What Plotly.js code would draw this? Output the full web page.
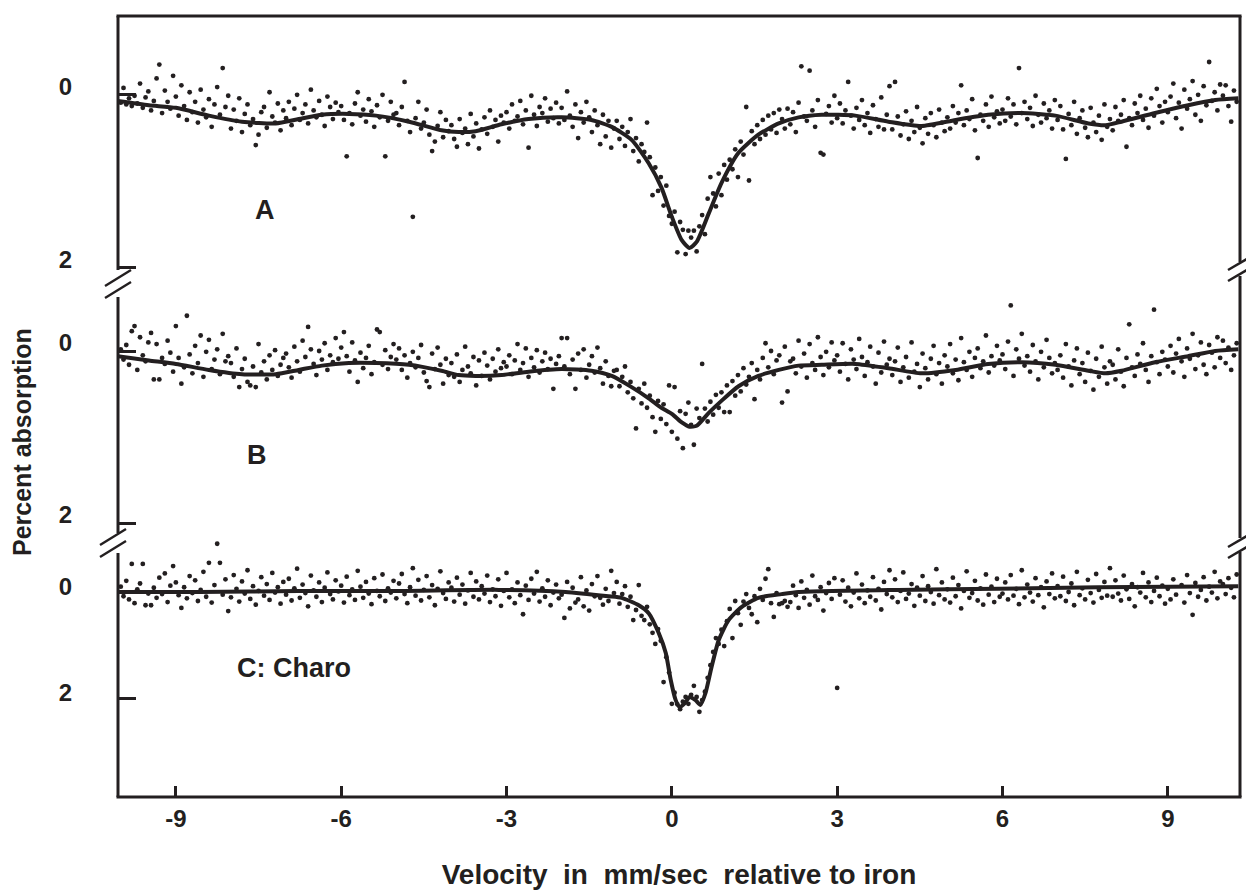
<!DOCTYPE html>
<html><head><meta charset="utf-8">
<script src="https://cdn.plot.ly/plotly-3.0.1.min.js"></script>
<style>html,body{margin:0;padding:0;background:#fff}</style>
</head><body>
<div id="chart" style="width:1246px;height:892px"></div>
<script>
// Channel velocities (mm/s)
const velocity = [
-10.00,-9.95,-9.90,-9.85,-9.80,-9.75,-9.70,-9.65,-9.60,-9.55,-9.50,-9.45,-9.40,-9.35,-9.30,-9.25,-9.20,-9.15,-9.10,-9.05,
-9.00,-8.95,-8.90,-8.85,-8.80,-8.75,-8.70,-8.65,-8.60,-8.55,-8.50,-8.45,-8.40,-8.35,-8.30,-8.25,-8.20,-8.15,-8.10,-8.05,
-8.00,-7.95,-7.90,-7.85,-7.80,-7.75,-7.70,-7.65,-7.60,-7.55,-7.50,-7.45,-7.40,-7.35,-7.30,-7.25,-7.20,-7.15,-7.10,-7.05,
-7.00,-6.95,-6.90,-6.85,-6.80,-6.75,-6.70,-6.65,-6.60,-6.55,-6.50,-6.45,-6.40,-6.35,-6.30,-6.25,-6.20,-6.15,-6.10,-6.05,
-6.00,-5.95,-5.90,-5.85,-5.80,-5.75,-5.70,-5.65,-5.60,-5.55,-5.50,-5.45,-5.40,-5.35,-5.30,-5.25,-5.20,-5.15,-5.10,-5.05,
-5.00,-4.95,-4.90,-4.85,-4.80,-4.75,-4.70,-4.65,-4.60,-4.55,-4.50,-4.45,-4.40,-4.35,-4.30,-4.25,-4.20,-4.15,-4.10,-4.05,
-4.00,-3.95,-3.90,-3.85,-3.80,-3.75,-3.70,-3.65,-3.60,-3.55,-3.50,-3.45,-3.40,-3.35,-3.30,-3.25,-3.20,-3.15,-3.10,-3.05,
-3.00,-2.95,-2.90,-2.85,-2.80,-2.75,-2.70,-2.65,-2.60,-2.55,-2.50,-2.45,-2.40,-2.35,-2.30,-2.25,-2.20,-2.15,-2.10,-2.05,
-2.00,-1.95,-1.90,-1.85,-1.80,-1.75,-1.70,-1.65,-1.60,-1.55,-1.50,-1.45,-1.40,-1.35,-1.30,-1.25,-1.20,-1.15,-1.10,-1.05,
-1.00,-0.95,-0.90,-0.85,-0.80,-0.75,-0.70,-0.65,-0.60,-0.55,-0.50,-0.45,-0.40,-0.35,-0.30,-0.25,-0.20,-0.15,-0.10,-0.05,
0.00,0.05,0.10,0.15,0.20,0.25,0.30,0.35,0.40,0.45,0.50,0.55,0.60,0.65,0.70,0.75,0.80,0.85,0.90,0.95,
1.00,1.05,1.10,1.15,1.20,1.25,1.30,1.35,1.40,1.45,1.50,1.55,1.60,1.65,1.70,1.75,1.80,1.85,1.90,1.95,
2.00,2.05,2.10,2.15,2.20,2.25,2.30,2.35,2.40,2.45,2.50,2.55,2.60,2.65,2.70,2.75,2.80,2.85,2.90,2.95,
3.00,3.05,3.10,3.15,3.20,3.25,3.30,3.35,3.40,3.45,3.50,3.55,3.60,3.65,3.70,3.75,3.80,3.85,3.90,3.95,
4.00,4.05,4.10,4.15,4.20,4.25,4.30,4.35,4.40,4.45,4.50,4.55,4.60,4.65,4.70,4.75,4.80,4.85,4.90,4.95,
5.00,5.05,5.10,5.15,5.20,5.25,5.30,5.35,5.40,5.45,5.50,5.55,5.60,5.65,5.70,5.75,5.80,5.85,5.90,5.95,
6.00,6.05,6.10,6.15,6.20,6.25,6.30,6.35,6.40,6.45,6.50,6.55,6.60,6.65,6.70,6.75,6.80,6.85,6.90,6.95,
7.00,7.05,7.10,7.15,7.20,7.25,7.30,7.35,7.40,7.45,7.50,7.55,7.60,7.65,7.70,7.75,7.80,7.85,7.90,7.95,
8.00,8.05,8.10,8.15,8.20,8.25,8.30,8.35,8.40,8.45,8.50,8.55,8.60,8.65,8.70,8.75,8.80,8.85,8.90,8.95,
9.00,9.05,9.10,9.15,9.20,9.25,9.30,9.35,9.40,9.45,9.50,9.55,9.60,9.65,9.70,9.75,9.80,9.85,9.90,9.95,
10.00,10.05,10.10,10.15,10.20,10.25];

// Spectrum A: percent absorption per channel
const absorptionA = [
0.10,-0.07,0.12,0.05,0.14,0.02,0.11,-0.12,0.16,0.04,-0.03,0.19,0.08,-0.18,-0.34,0.22,-0.04,0.09,0.17,-0.21,
0.03,0.25,-0.10,0.14,0.30,-0.02,0.21,0.09,0.33,-0.05,0.18,0.27,0.06,0.38,0.12,-0.08,0.24,-0.30,0.15,0.02,
0.40,0.18,0.31,0.05,0.44,0.23,0.12,0.36,0.29,0.59,0.47,0.21,0.15,0.39,-0.02,0.26,0.33,0.11,0.42,0.19,
0.28,0.09,0.36,0.17,0.01,0.30,0.22,0.12,0.34,-0.05,0.19,0.27,0.08,0.24,0.37,0.03,0.15,0.29,0.10,0.21,
0.14,0.30,0.72,0.22,0.35,0.11,-0.02,0.25,0.18,0.32,0.06,0.20,0.38,0.13,0.27,0.01,0.72,0.31,0.09,0.24,
0.22,0.36,0.15,-0.14,0.31,0.44,1.42,0.28,0.09,0.40,0.33,0.18,0.47,0.66,0.55,0.37,0.21,0.50,0.30,0.43,
0.36,0.52,0.61,0.29,0.45,0.40,0.58,0.23,0.49,0.34,0.63,0.41,0.27,0.46,0.19,0.38,0.30,0.55,0.25,0.33,
0.21,0.40,0.12,0.31,0.26,0.08,0.35,0.19,0.62,0.02,0.24,0.37,0.15,0.22,0.05,0.32,0.17,0.28,0.10,0.34,
0.16,0.30,-0.03,0.25,0.38,0.12,0.51,0.21,0.33,0.09,0.27,0.44,0.19,0.36,0.58,0.24,0.49,0.31,0.62,0.40,
0.31,0.52,0.38,0.60,0.44,0.29,0.66,0.51,0.78,0.58,0.67,0.33,0.73,1.17,0.85,1.12,0.96,1.29,1.06,1.41,
1.50,1.36,1.83,1.48,1.57,1.85,1.58,1.66,1.58,1.82,1.53,1.40,1.62,1.21,0.96,1.15,1.30,0.92,1.17,0.82,
0.99,0.76,0.87,0.64,0.96,0.55,0.70,0.15,1.00,0.43,0.58,0.36,0.52,0.30,0.47,0.25,0.41,0.22,0.45,0.18,
0.29,0.40,0.17,0.35,0.21,0.44,0.10,-0.32,0.26,0.31,-0.27,0.19,0.38,0.07,0.68,0.70,0.23,0.14,0.33,0.02,
0.28,0.11,0.34,0.19,-0.14,0.25,0.40,0.16,0.30,0.07,0.36,0.22,0.45,0.13,0.29,0.38,0.04,0.41,0.24,-0.09,
0.41,-0.14,0.26,0.48,0.35,0.20,0.52,0.31,0.44,0.15,0.39,0.57,0.28,0.46,0.22,0.36,0.50,0.18,0.33,0.43,
0.27,0.40,0.14,0.33,0.22,-0.10,0.36,0.19,0.29,0.06,0.42,0.74,0.24,0.31,0.12,0.38,0.03,0.27,0.20,0.34,
0.18,0.31,0.05,0.26,0.12,0.35,-0.30,0.22,0.09,0.29,0.16,0.37,0.02,0.24,0.33,0.11,0.28,0.19,0.40,0.07,
0.30,0.14,0.41,0.75,0.23,0.36,0.09,0.46,0.28,0.19,0.39,0.50,0.16,0.33,0.44,0.25,0.53,0.12,0.38,0.29,
0.42,0.15,0.31,0.24,0.07,0.61,0.28,0.36,0.11,0.22,0.02,0.30,0.17,0.39,0.05,0.25,-0.06,0.14,0.33,0.09,
0.21,0.03,-0.12,0.28,0.10,0.40,-0.05,0.17,0.06,-0.15,0.24,0.01,0.31,-0.09,0.13,-0.37,0.08,-0.02,0.19,-0.11,
0.02,-0.10,0.14,0.32,-0.04,0.09];

// Spectrum B
const absorptionB = [
-0.02,0.10,-0.07,0.16,-0.23,-0.29,0.22,-0.16,0.05,0.12,-0.10,-0.21,0.33,-0.08,0.33,0.08,0.15,-0.12,0.02,0.24,
-0.29,0.08,0.38,0.19,-0.41,0.04,0.26,-0.06,0.14,-0.18,0.30,0.01,-0.13,0.21,0.10,-0.02,0.27,-0.20,0.12,0.06,
0.14,0.30,-0.03,0.42,0.21,0.09,0.36,0.40,0.18,0.42,-0.08,0.25,0.12,0.33,0.05,0.22,-0.01,0.29,0.16,0.08,
0.03,0.19,0.31,-0.05,0.12,0.24,-0.12,0.07,-0.28,-0.02,0.15,0.28,0.00,0.10,-0.09,0.22,0.05,0.13,-0.15,0.09,
-0.04,-0.22,0.06,0.24,-0.10,0.11,0.36,0.02,0.20,0.08,-0.06,0.27,0.13,-0.25,-0.22,0.16,-0.01,0.21,0.07,-0.08,
0.10,-0.03,0.22,0.05,0.31,0.14,0.01,0.19,0.08,-0.07,0.25,0.35,0.42,0.03,0.21,-0.04,0.16,0.38,0.09,0.28,
0.14,0.30,0.04,0.36,0.22,-0.05,0.18,0.26,0.07,0.40,0.11,0.29,0.02,0.17,0.33,0.09,0.24,-0.02,0.20,0.13,
0.18,0.05,0.27,0.11,-0.08,0.22,0.14,-0.03,0.30,0.08,0.19,-0.01,0.25,0.12,0.02,0.21,0.09,0.44,0.15,0.06,
-0.15,0.18,-0.15,0.27,0.10,0.44,0.03,0.22,-0.02,0.31,0.16,0.06,0.25,-0.04,0.20,0.38,0.12,0.29,0.41,0.23,
0.22,0.41,0.30,0.18,0.48,0.36,0.55,0.90,0.44,0.61,0.38,0.66,0.52,0.77,0.94,0.58,0.79,0.62,0.85,0.40,
0.94,0.42,1.02,0.70,1.13,0.73,0.60,0.86,1.09,0.67,0.78,0.15,0.67,0.82,0.59,0.74,0.51,0.66,0.48,0.71,
0.40,0.71,0.35,0.52,0.28,0.47,0.20,0.39,0.30,0.14,0.56,0.22,0.33,0.08,-0.09,0.19,0.00,0.27,0.11,0.05,
0.60,-0.05,0.47,0.12,0.09,0.26,-0.12,0.18,0.03,0.31,-0.08,0.14,0.22,-0.16,0.07,0.28,0.01,0.19,-0.10,0.11,
0.05,0.24,-0.09,0.15,0.33,-0.02,0.10,0.21,-0.14,0.07,0.29,0.13,-0.05,0.18,0.38,0.02,0.25,-0.11,0.16,0.09,
0.28,0.12,-0.04,0.36,0.19,0.07,0.31,-0.10,0.24,0.15,0.42,0.03,0.20,0.33,0.09,-0.06,0.27,0.14,0.38,0.05,
0.18,-0.08,0.26,0.10,0.34,-0.15,0.13,0.22,0.01,0.30,0.08,-0.03,0.20,0.12,-0.18,0.25,0.06,0.17,-0.06,0.11,
0.04,0.21,-0.11,-0.53,0.29,-0.02,0.09,-0.20,0.17,0.06,0.24,-0.07,0.12,0.33,0.01,0.19,-0.13,0.08,0.26,0.14,
0.22,0.05,0.31,-0.08,0.18,0.40,0.11,-0.03,0.27,0.14,0.36,0.02,0.23,0.45,0.09,0.30,-0.05,0.19,0.38,0.12,
0.16,0.33,-0.02,0.24,0.41,0.08,-0.31,0.19,0.29,0.04,0.15,-0.09,0.22,0.36,0.06,-0.48,0.13,0.27,0.01,0.10,
0.18,-0.06,0.25,0.03,-0.14,0.12,0.30,-0.03,0.09,-0.20,0.21,0.05,-0.10,0.16,0.27,-0.07,0.02,0.19,-0.16,0.08,
-0.12,0.14,-0.04,0.22,0.05,-0.09];

// Spectrum C: Charo
const absorptionC = [
-0.10,0.08,-0.21,0.14,-0.53,0.21,-0.05,-0.16,-0.53,0.25,0.03,0.25,-0.08,0.11,-0.27,0.04,-0.35,0.19,-0.12,-0.49,
-0.18,0.06,0.30,-0.09,0.12,-0.30,0.02,-0.22,0.17,-0.04,-0.38,0.09,-0.55,0.20,-0.13,-0.91,-0.55,0.05,-0.24,0.36,
0.10,-0.32,-0.06,0.18,-0.20,0.03,-0.41,0.13,-0.11,0.24,-0.02,-0.28,0.07,-0.15,0.15,-0.36,0.01,-0.09,0.22,-0.19,
0.05,-0.25,0.16,-0.07,-0.44,0.11,-0.14,0.02,0.27,-0.31,-0.03,0.09,-0.18,0.19,-0.08,-0.37,0.04,0.14,-0.22,-0.01,
-0.12,0.20,-0.29,0.06,-0.05,0.15,-0.40,-0.10,0.11,-0.19,0.03,0.23,-0.26,-0.02,0.08,-0.33,0.17,-0.07,0.01,-0.21,
0.12,-0.16,-0.34,0.04,0.21,-0.09,-0.45,0.07,-0.23,0.16,-0.04,-0.30,0.10,-0.13,0.25,-0.06,-0.39,0.02,0.13,-0.18,
-0.08,0.18,-0.27,0.05,-0.14,0.22,-0.03,-0.36,0.09,-0.20,0.14,-0.11,0.03,-0.31,0.19,-0.05,0.08,-0.24,0.26,-0.02,
-0.36,0.10,-0.05,0.21,-0.18,0.06,0.42,-0.12,0.15,-0.25,0.03,-0.38,0.18,-0.07,0.09,-0.22,0.25,0.01,-0.14,0.12,
0.05,0.49,-0.19,0.31,-0.08,0.20,0.14,-0.28,0.27,-0.03,0.35,-0.15,0.08,-0.30,0.11,0.24,-0.06,0.17,-0.40,0.02,
-0.19,0.22,0.04,-0.11,0.28,0.09,0.53,0.34,-0.13,0.45,0.53,0.28,0.61,0.77,0.98,0.70,0.92,1.70,1.23,1.52,
2.11,1.90,2.12,2.21,2.07,1.98,2.11,1.94,1.77,1.98,2.26,2.04,1.88,1.62,1.38,1.13,0.87,0.98,0.71,1.02,
0.55,0.32,0.87,0.17,0.40,0.62,0.18,0.04,0.30,0.42,0.08,0.57,-0.06,0.15,-0.25,-0.43,0.21,0.47,0.02,0.23,
0.21,0.17,0.28,0.19,-0.12,0.06,0.30,-0.20,0.11,-0.04,0.24,-0.31,0.08,0.15,-0.09,0.35,0.02,-0.17,0.13,-0.26,
1.81,0.05,-0.22,0.18,-0.08,0.27,0.01,-0.35,0.12,-0.14,0.21,-0.03,0.09,-0.28,0.16,-0.06,0.33,-0.19,0.04,-0.41,
0.10,-0.24,0.19,-0.02,-0.37,0.13,0.03,-0.15,0.26,-0.08,0.07,-0.30,0.17,-0.11,0.00,0.22,-0.43,0.06,-0.18,0.14,
-0.05,0.20,-0.27,0.08,-0.13,0.31,-0.02,-0.39,0.11,0.02,-0.21,0.16,-0.07,0.24,-0.33,0.05,-0.10,0.19,-0.25,0.09,
0.03,-0.18,0.14,-0.32,0.07,-0.06,0.23,-0.41,0.10,-0.14,0.01,0.18,-0.26,0.06,-0.09,0.29,-0.20,0.04,-0.35,0.12,
-0.11,0.08,-0.29,0.17,0.00,-0.16,0.25,-0.38,0.06,-0.07,0.14,-0.23,0.02,0.20,-0.34,-0.04,0.11,-0.19,0.07,-0.45,
0.09,-0.22,0.03,0.16,-0.31,-0.05,0.13,-0.15,0.27,-0.09,0.01,-0.36,0.10,-0.18,0.19,-0.02,-0.27,0.08,-0.12,0.22,
-0.06,0.14,-0.24,0.05,-1.30,-0.13,0.20,-0.32,0.02,0.43,-0.17,0.09,-0.04,-0.28,0.16,-0.10,0.01,-0.38,0.12,-0.20,
-0.15,0.04,-0.26,-0.08,0.10,-0.33];

// Fitted curves
const fitVelocity = [-10.07,-9.49,-9.00,-8.40,-7.80,-7.19,-6.77,-6.35,-5.86,-5.37,-4.77,-4.18,-3.87,-3.56,-3.09,-2.60,-2.00,-1.46,-1.09,-0.73,-0.42,-0.19,0.00,0.18,0.32,0.45,0.67,0.90,1.21,1.57,1.94,2.30,2.72,3.33,3.93,4.53,5.15,5.74,6.34,6.96,7.56,7.87,8.16,8.77,9.37,9.86,10.28];
const fitA = [0.08,0.13,0.16,0.25,0.32,0.34,0.29,0.24,0.23,0.25,0.32,0.42,0.44,0.43,0.35,0.29,0.27,0.30,0.38,0.53,0.80,1.08,1.42,1.69,1.78,1.71,1.38,1.03,0.68,0.47,0.34,0.27,0.24,0.25,0.32,0.37,0.30,0.24,0.22,0.25,0.34,0.36,0.32,0.22,0.13,0.07,0.05];
const fitB = [0.06,0.11,0.15,0.22,0.27,0.27,0.22,0.17,0.14,0.14,0.16,0.23,0.28,0.29,0.28,0.24,0.21,0.23,0.29,0.42,0.55,0.66,0.73,0.83,0.88,0.87,0.72,0.58,0.41,0.29,0.22,0.17,0.16,0.15,0.20,0.26,0.22,0.15,0.13,0.16,0.23,0.26,0.23,0.13,0.06,0.00,-0.02];
const fitVelocityC = [-10.07,-8.58,-6.77,-4.96,-3.14,-1.93,-1.15,-0.91,-0.60,-0.42,-0.24,-0.11,-0.02,0.07,0.14,0.25,0.32,0.43,0.52,0.61,0.72,0.85,1.03,1.27,1.57,1.99,2.30,4.11,5.93,7.74,10.28];
const fitC = [0,0,-0.02,-0.02,-0.04,0,0.08,0.11,0.25,0.40,0.77,1.15,1.66,2.04,2.17,2.08,1.98,2.04,2.13,1.91,1.42,0.91,0.53,0.28,0.11,0.04,0,-0.04,-0.06,-0.09,-0.11];

const panelLabels = ['A', 'B', 'C: Charo'];
const xTickVals = [-9, -6, -3, 0, 3, 6, 9];
const xTickText = ['-9', '-6', '-3', '0', '3', '6', '9'];
const yTickVals = [0, 2];
const yTickText = ['0', '2'];
const xTitle = 'Velocity\u00a0\u00a0in\u00a0\u00a0mm/sec\u00a0\u00a0relative to iron';
const yTitle = 'Percent absorption';

// ---------- styling / layout ----------
const INK = '#231f20';
const FONT = '"Liberation Sans", Arial, Helvetica, sans-serif';
const L = 118, R = 1240, T = 16, B = 797;
function px(x) { return (x - L) / (R - L); }
function py(y) { return 1 - (y - T) / (B - T); }

const dot = {size: 4.8, color: INK};
const fitLine = {color: INK, width: 4, shape: 'spline', smoothing: 0.6};

function dots(y, ax) { return {x: velocity, y: y, yaxis: ax, xaxis: 'x', mode: 'markers', marker: dot, cliponaxis: false, hoverinfo: 'skip', showlegend: false}; }
function fit(x, y, ax) { return {x: x, y: y, yaxis: ax, xaxis: 'x', mode: 'lines', line: fitLine, cliponaxis: false, hoverinfo: 'skip', showlegend: false}; }

const traces = [
  dots(absorptionA, 'y'), fit(fitVelocity, fitA, 'y'),
  dots(absorptionB, 'y2'), fit(fitVelocity, fitB, 'y2'),
  dots(absorptionC, 'y3'), fit(fitVelocityC, fitC, 'y3')
];

const tickFont = {family: FONT, size: 24, color: INK, weight: 'bold'};
const yCommon = {
  tickvals: yTickVals, ticktext: yTickText, ticks: 'inside', ticklen: 18, tickwidth: 3, tickcolor: INK,
  showgrid: false, zeroline: false, showline: false, anchor: 'x', tickfont: tickFont,
  ticklabelstandoff: 45, fixedrange: true
};

function seg(x0, y0, x1, y1, w) {
  return {type: 'line', xref: 'paper', yref: 'paper', x0: px(x0), y0: py(y0), x1: px(x1), y1: py(y1), line: {color: INK, width: w || 3}};
}
const shapes = [
  seg(116.5, 16, 1241.5, 16), seg(116.5, 797, 1241.5, 797),
  seg(118, 16, 118, 270), seg(118, 297, 118, 533), seg(118, 553, 118, 797),
  seg(1240, 16, 1240, 262), seg(1240, 276, 1240, 538), seg(1240, 552, 1240, 797),
  seg(105, 286, 131, 270, 2.5), seg(105, 298, 131, 282, 2.5),
  seg(100, 545, 126, 529, 2.5), seg(100, 557, 126, 541, 2.5),
  seg(1228, 270, 1252, 256, 2.5), seg(1228, 281, 1252, 267, 2.5),
  seg(1228, 547, 1252, 533, 2.5), seg(1228, 558, 1252, 544, 2.5)
];

const labelPos = [[265, 210], [257, 455], [294, 668]];
const annotations = panelLabels.map((t, i) => ({
  text: t, xref: 'paper', yref: 'paper', x: px(labelPos[i][0]), y: py(labelPos[i][1]),
  xanchor: 'center', yanchor: 'middle',
  showarrow: false, font: {family: FONT, size: 27, color: INK, weight: 'bold'}
}));
annotations.push({
  text: yTitle, xref: 'paper', yref: 'paper', x: px(22), y: py(442), textangle: -90,
  xanchor: 'center', yanchor: 'middle',
  showarrow: false, font: {family: FONT, size: 25, color: INK, weight: 'bold'}
});

const layout = {
  width: 1246, height: 892,
  margin: {l: L, r: 1246 - R, t: T, b: 892 - B},
  paper_bgcolor: '#fff', plot_bgcolor: '#fff',
  showlegend: false,
  xaxis: {
    range: [-10.05, 10.31], tickvals: xTickVals, ticktext: xTickText,
    ticks: 'inside', ticklen: 11, tickwidth: 3, tickcolor: INK,
    showgrid: false, zeroline: false, showline: false, anchor: 'y3',
    tickfont: tickFont, ticklabelstandoff: 5, fixedrange: true,
    title: {text: xTitle, font: {family: FONT, size: 28, color: INK, weight: 'bold'}, standoff: 33}
  },
  yaxis: Object.assign({}, yCommon, {domain: [py(283), 1], range: [(283 - 94) / 86.5, (16 - 94) / 86.5], ticklabelshift: 7}),
  yaxis2: Object.assign({}, yCommon, {domain: [py(540), py(283)], range: [(540 - 351) / 86, (283 - 351) / 86], ticklabelshift: 8}),
  yaxis3: Object.assign({}, yCommon, {domain: [0, py(540)], range: [(797 - 592) / 53, (540 - 592) / 53], ticklabelshift: 5}),
  shapes: shapes,
  annotations: annotations
};

Plotly.newPlot('chart', traces, layout, {displayModeBar: false, staticPlot: true});
</script>
</body></html>
